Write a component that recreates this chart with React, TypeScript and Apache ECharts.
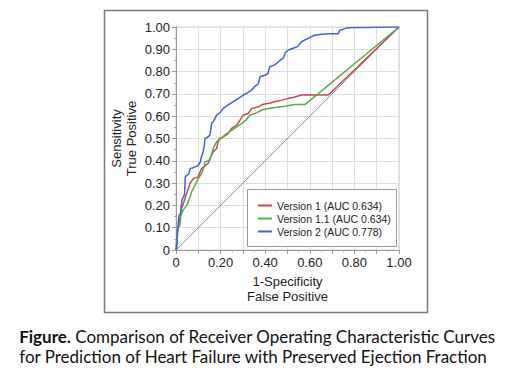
import React, { useEffect, useRef } from "react";
import * as echarts from "echarts";

const seriesNames = ["Version 1 (AUC 0.634)", "Version 1.1 (AUC 0.634)", "Version 2 (AUC 0.778)"];
const seriesColors = ["#cc4650", "#52b045", "#3d63dd"];

const version1: number[][] = [
  [0, 0], [0.005, 0.05], [0.01, 0.1], [0.015, 0.127], [0.02, 0.16], [0.025, 0.187], [0.03, 0.2],
  [0.04, 0.23], [0.05, 0.26], [0.057, 0.28], [0.063, 0.3], [0.078, 0.32], [0.1, 0.328], [0.108, 0.35],
  [0.115, 0.365], [0.134, 0.38], [0.145, 0.39], [0.152, 0.41], [0.167, 0.44], [0.182, 0.455],
  [0.188, 0.48], [0.194, 0.5], [0.212, 0.507], [0.234, 0.522], [0.249, 0.545], [0.272, 0.56],
  [0.287, 0.582], [0.301, 0.604], [0.324, 0.612], [0.339, 0.634], [0.369, 0.642], [0.391, 0.654],
  [0.42, 0.658], [0.436, 0.664], [0.473, 0.672], [0.504, 0.68], [0.525, 0.684], [0.563, 0.695],
  [0.6, 0.695], [0.683, 0.695], [1, 1],
];

const version11: number[][] = [
  [0, 0], [0.004, 0.06], [0.006, 0.097], [0.018, 0.11], [0.022, 0.157], [0.033, 0.18], [0.048, 0.2],
  [0.06, 0.23], [0.07, 0.26], [0.085, 0.29], [0.1, 0.32], [0.115, 0.343], [0.125, 0.37], [0.13, 0.395],
  [0.152, 0.403], [0.16, 0.43], [0.167, 0.455], [0.182, 0.485], [0.2, 0.5], [0.227, 0.522],
  [0.249, 0.537], [0.272, 0.552], [0.294, 0.567], [0.316, 0.585], [0.332, 0.605], [0.361, 0.615],
  [0.39, 0.63], [0.436, 0.638], [0.488, 0.645], [0.533, 0.652], [0.578, 0.652], [1, 1],
];

const version2: number[][] = [
  [0, 0], [0.004, 0.01], [0.006, 0.08], [0.009, 0.104], [0.012, 0.14], [0.015, 0.157], [0.02, 0.16],
  [0.022, 0.187], [0.027, 0.224], [0.034, 0.239], [0.038, 0.25], [0.042, 0.329], [0.05, 0.336],
  [0.057, 0.34], [0.064, 0.366], [0.075, 0.368], [0.087, 0.374], [0.1, 0.38], [0.109, 0.395],
  [0.114, 0.418], [0.122, 0.441], [0.127, 0.47], [0.13, 0.5], [0.145, 0.508], [0.152, 0.516],
  [0.16, 0.568], [0.17, 0.58], [0.182, 0.605], [0.197, 0.615], [0.212, 0.635], [0.23, 0.648],
  [0.257, 0.665], [0.28, 0.68], [0.302, 0.695], [0.32, 0.705], [0.339, 0.717], [0.355, 0.735],
  [0.369, 0.744], [0.377, 0.777], [0.4, 0.785], [0.412, 0.79], [0.42, 0.822], [0.443, 0.83],
  [0.466, 0.85], [0.481, 0.86], [0.49, 0.885], [0.504, 0.897], [0.525, 0.905], [0.545, 0.912],
  [0.563, 0.934], [0.59, 0.948], [0.608, 0.957], [0.622, 0.963], [0.653, 0.967], [0.69, 0.97],
  [0.727, 0.97], [0.734, 0.985], [0.764, 0.995], [0.8, 0.998], [0.855, 0.998], [0.943, 1.0], [1, 1],
];

const diagonal: number[][] = [[0, 0], [1, 1]];

const xAxisTitle = "1-Specificity\nFalse Positive";
const yAxisTitle = "Sensitivity\nTrue Positive";
const captionBold = "Figure.";
const captionLine1 = " Comparison of Receiver Operating Characteristic Curves";
const captionLine2 = "for Prediction of Heart Failure with Preserved Ejection Fraction";

const AXIS_FONT = "Liberation Sans, Arial, sans-serif";
const CAPTION_FONT = "Lato, Open Sans, sans-serif";

function fmt(v: number): string {
  if (Math.abs(v) < 1e-9) return "0";
  return v.toFixed(2);
}

export default function App() {
  const ref = useRef<HTMLDivElement>(null);
  useEffect(() => {
    document.body.style.margin = "0";
    if (!ref.current) return;
    const chart = echarts.init(ref.current, null, { renderer: "svg" });
    const curves = [version1, version11, version2];
    const option: any = {
      animation: false,
      backgroundColor: "#ffffff",
      grid: {
        left: 176, top: 27, width: 223, height: 223,
        show: true, borderColor: "#d0d0d0", borderWidth: 1,
      },
      xAxis: {
        type: "value", min: 0, max: 1, interval: 0.1,
        name: xAxisTitle, nameLocation: "middle", nameGap: 20,
        nameTextStyle: { fontFamily: AXIS_FONT, fontSize: 13, color: "#222", lineHeight: 15 },
        axisLine: { show: true, onZero: false, lineStyle: { color: "#9a9a9a", width: 1 } },
        axisTick: { show: true, length: 4, lineStyle: { color: "#9a9a9a" } },
        minorTick: { show: true, splitNumber: 2, length: 2, lineStyle: { color: "#aaaaaa" } },
        axisLabel: {
          margin: 6, fontFamily: AXIS_FONT, fontSize: 13, color: "#222",
          formatter: (v: number) => (Math.round(v * 10) % 2 === 0 ? fmt(v) : ""),
        },
        splitLine: { show: true, lineStyle: { color: "#dedede", width: 1 } },
      },
      yAxis: {
        type: "value", min: 0, max: 1, interval: 0.1,
        name: yAxisTitle, nameLocation: "middle", nameGap: 37, nameRotate: 90,
        nameTextStyle: { fontFamily: AXIS_FONT, fontSize: 13, color: "#222", lineHeight: 15 },
        axisLine: { show: true, onZero: false, lineStyle: { color: "#9a9a9a", width: 1 } },
        axisTick: { show: true, length: 4, lineStyle: { color: "#9a9a9a" } },
        minorTick: { show: true, splitNumber: 2, length: 2, lineStyle: { color: "#aaaaaa" } },
        axisLabel: { margin: 6, fontFamily: AXIS_FONT, fontSize: 13, color: "#222", formatter: fmt },
        splitLine: { show: true, lineStyle: { color: "#dedede", width: 1 } },
      },
      legend: {
        orient: "vertical", left: 258, top: 199, padding: 0, itemGap: 0, z: 20,
        itemWidth: 14, itemHeight: 2, icon: "rect",
        data: seriesNames,
        textStyle: { fontFamily: AXIS_FONT, fontSize: 10.5, color: "#222", lineHeight: 13, padding: [0, 0, 0, 0] },
        itemStyle: { borderWidth: 0 },
      },
      graphic: [
        { type: "rect", left: 102, top: 8, shape: { width: 323, height: 302 }, style: { fill: "none", stroke: "#7a7a7a", lineWidth: 1.5 }, z: 0 },
        { type: "rect", left: 247, top: 189, shape: { width: 149, height: 57 }, style: { fill: "#ffffff", stroke: "#9a9a9a", lineWidth: 1 }, z: 3 },
        {
          type: "text", left: "center", top: 326, z: 10,
          style: {
            text: "{b|" + captionBold + "}" + captionLine1 + "\n" + captionLine2,
            font: "17px " + CAPTION_FONT, fill: "#111", lineHeight: 20, align: "center",
            rich: { b: { fontWeight: "bold", fontFamily: CAPTION_FONT, fontSize: 17, fill: "#111" } },
          },
        },
      ],
      series: [
        {
          type: "line", data: diagonal, showSymbol: false, silent: true, z: 1,
          lineStyle: { color: "#8c8c8c", width: 1 },
        },
        ...curves.map((d, i) => ({
          type: "line", name: seriesNames[i], data: d, showSymbol: false, symbol: "none", z: 2 + i,
          color: seriesColors[i],
          lineStyle: { color: seriesColors[i], width: 1.5 },
        })),
      ],
    };
    chart.setOption(option);
    return () => chart.dispose();
  }, []);
  return <div ref={ref} style={{ width: 515, height: 372 }} />;
}
